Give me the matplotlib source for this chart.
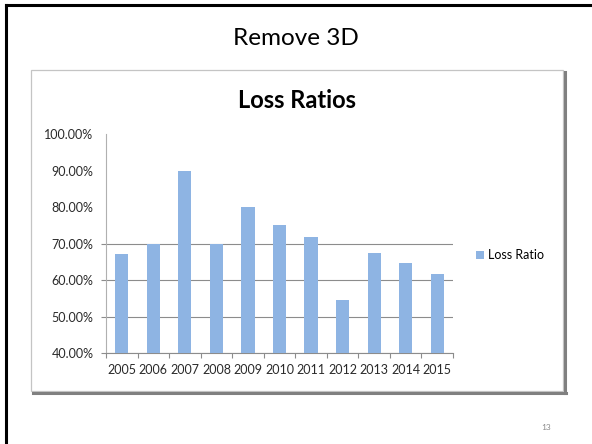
"""Slide 13: 'Remove 3D' - flat bar chart of loss ratios by year."""
import matplotlib
matplotlib.use("Agg")
import matplotlib.pyplot as plt
from matplotlib.lines import Line2D
from matplotlib.patches import Rectangle
from matplotlib.ticker import FuncFormatter

years = ["2005", "2006", "2007", "2008", "2009", "2010",
         "2011", "2012", "2013", "2014", "2015"]
loss_ratio = [0.672, 0.700, 0.900, 0.700, 0.800, 0.750,
              0.717, 0.545, 0.675, 0.647, 0.616]
y_ticks = [0.4, 0.5, 0.6, 0.7, 0.8, 0.9, 1.0]
grid_at = [0.4, 0.5, 0.6, 0.7]

W, H = 592, 444
plt.rcParams["font.family"] = ["Lato", "DejaVu Sans"]

fig = plt.figure(figsize=(W / 100, H / 100), dpi=100)


def fx(px):
    return px / W


def fy(py):
    return 1 - py / H


# slide border (top + left only, the rest runs off the page)
fig.add_artist(Line2D([fx(6), 1], [fy(5), fy(5)], color="black", lw=2.2))
fig.add_artist(Line2D([fx(6), fx(6)], [fy(5), 0], color="black", lw=2.2))

# chart frame with drop shadow
fig.add_artist(Rectangle((fx(31), fy(391)), fx(563) - fx(31), fy(70) - fy(391),
                         transform=fig.transFigure, facecolor="white",
                         edgecolor="#c4c4c4", lw=0.9, zorder=-2))
fig.add_artist(Line2D([fx(565), fx(565)], [fy(72), fy(393)], color="#808080", lw=2.2))
fig.add_artist(Line2D([fx(33), fx(566)], [fy(392.5), fy(392.5)], color="#808080", lw=2.2))

fig.text(0.5, fy(45), "Remove 3D", ha="center", va="baseline", fontsize=17.5)
fig.text(fx(297), fy(108), "Loss Ratios", ha="center", va="baseline",
         fontsize=17, fontweight="bold")
fig.text(fx(546), fy(430), "13", ha="center", va="baseline",
         fontsize=6, color="#8a8a8a")

ax = fig.add_axes([fx(106), fy(353), fx(453) - fx(106), fy(134) - fy(353)])
ax.set_zorder(3)
ax.patch.set_visible(False)
x = list(range(len(years)))
bars = ax.bar(x, loss_ratio, width=0.42, color="#8eb4e3", label="Loss Ratio",
              zorder=3)

ax.set_xlim(-0.5, len(years) - 0.5)
ax.set_ylim(0.4, 1.0)
ax.set_yticks(y_ticks)
ax.yaxis.set_major_formatter(FuncFormatter(lambda v, _: f"{v * 100:.2f}%"))
ax.yaxis.remove_overlapping_locs = False
ax.set_yticks(grid_at, minor=True)
ax.set_xticks(x)
ax.set_xticklabels(years)
ax.set_xticks([i - 0.5 for i in range(len(years) + 1)], minor=True)

ax.tick_params(axis="both", which="major", length=0, labelsize=9,
               labelcolor="#2a2a2a")
ax.tick_params(axis="y", which="major", pad=9)
ax.tick_params(axis="x", which="major", pad=8)
ax.tick_params(axis="both", which="minor", length=3.6, width=0.8,
               color="#8c8c8c", direction="out")
ax.set_axisbelow(True)
ax.grid(axis="y", which="minor", color="#8c8c8c", lw=0.8)

for side in ("top", "right"):
    ax.spines[side].set_visible(False)
for side in ("left", "bottom"):
    ax.spines[side].set_color("#b0b0b0" if side == "left" else "#8c8c8c")
    ax.spines[side].set_linewidth(0.8)

fig.legend(handles=[bars], loc="center left",
           bbox_to_anchor=(fx(476), fy(255)), frameon=False, fontsize=9,
           handlelength=0.6, handleheight=0.6, handletextpad=0.35,
           borderpad=0, borderaxespad=0)

fig.savefig("out.png", dpi=100)
